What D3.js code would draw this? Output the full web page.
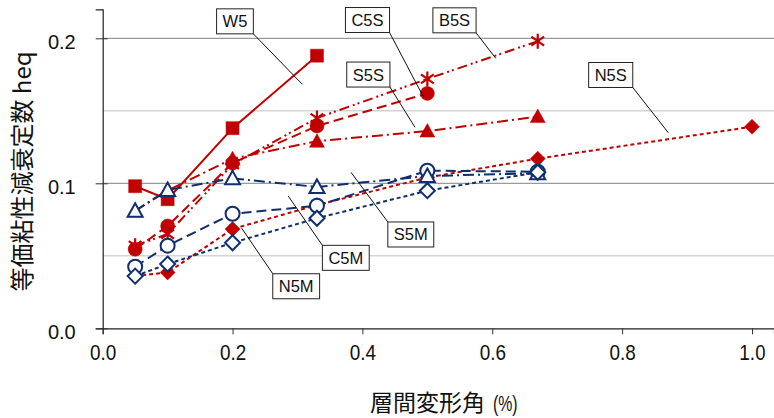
<!DOCTYPE html>
<html><head><meta charset="utf-8">
<script src="https://cdn.jsdelivr.net/npm/d3@7"></script>
<style>body{margin:0;background:#fff}svg{display:block}</style>
</head><body>
<svg id="c" width="774" height="418"></svg>
<script>
// ---- data ----
const xW5 = [0.05, 0.1, 0.2, 0.33];
const yW5 = [0.098, 0.089, 0.138, 0.188];
const xC5S = [0.05, 0.1, 0.2, 0.33, 0.5];
const yC5S = [0.0545, 0.0706, 0.114, 0.1395, 0.162];
const xB5S = [0.05, 0.1, 0.2, 0.33, 0.5, 0.67];
const yB5S = [0.057, 0.065, 0.113, 0.145, 0.172, 0.198];
const xS5S = [0.05, 0.1, 0.2, 0.33, 0.5, 0.67];
const yS5S = [0.081, 0.095, 0.117, 0.129, 0.136, 0.146];
const xN5S = [0.05, 0.1, 0.2, 0.33, 0.5, 0.67, 1.0];
const yN5S = [0.036, 0.0385, 0.0685, 0.085, 0.104, 0.117, 0.139];
const xM = [0.05, 0.1, 0.2, 0.33, 0.5, 0.67];
const yS5M = [0.081, 0.0954, 0.1034, 0.0975, 0.105, 0.107];
const yC5M = [0.0425, 0.057, 0.079, 0.0845, 0.1087, 0.108];
const yN5M = [0.036, 0.0443, 0.059, 0.0759, 0.0949, 0.1076];
const xTicks = [0, 0.2, 0.4, 0.6, 0.8, 1.0];
const yTicks = [0, 0.1, 0.2];
const yGridMajor = [0.1, 0.2];
const yGridMinor = [0.05, 0.15];
const xTitle = "層間変形角";
const xUnit = "(%)";
const yTitle = "等価粘性減衰定数 heq";
// annotation: label, box centre (data), leader end (data)
const annLabels = ["W5", "C5S", "B5S", "S5S", "N5S", "S5M", "C5M", "N5M"];
const annBox = [[0.2037, 0.2117], [0.4078, 0.2126], [0.5418, 0.2124], [0.4091, 0.175], [0.7824, 0.1747], [0.4745, 0.0647], [0.3744, 0.0486], [0.298, 0.029]];
const annEnd = [[0.3074, 0.1683], [0.4938, 0.1597], [0.6053, 0.1862], [0.481, 0.1386], [0.8711, 0.1349], [0.3824, 0.1076], [0.2858, 0.0912], [0.2141, 0.069]];

const RED = "#C00000", BLUE = "#0F2F6E";
const series = [
  {xs: xS5S, ys: yS5S, color: RED, dash: "11,4,2,4", marker: "triangle", fill: true},
  {xs: xB5S, ys: yB5S, color: RED, dash: "10,4,2,3,2,4", marker: "star", fill: true},
  {xs: xC5S, ys: yC5S, color: RED, dash: "10,5", marker: "circle", fill: true},
  {xs: xW5, ys: yW5, color: RED, dash: null, marker: "square", fill: true},
  {xs: xN5S, ys: yN5S, color: RED, dash: "4,3", marker: "diamond", fill: true},
  {xs: xM, ys: yC5M, color: BLUE, dash: "10,5", marker: "circle", fill: false},
  {xs: xM, ys: yS5M, color: BLUE, dash: "11,4,2,4", marker: "triangle", fill: false},
  {xs: xM, ys: yN5M, color: BLUE, dash: "4,3", marker: "diamond", fill: false}
];

const svg = d3.select("#c");
const L = 102.7, R = 774, T = 9.3, B = 328.3;
const x = d3.scaleLinear().domain([0, (R - L) / 649.3]).range([L, R]);
const y = d3.scaleLinear().domain([0, 0.22]).range([B, T]);

// grid
svg.append("g").selectAll("line").data(yGridMinor).join("line")
  .attr("x1", L).attr("x2", R).attr("y1", d => y(d)).attr("y2", d => y(d))
  .attr("stroke", "#d4d4d4").attr("stroke-width", 1.5);
svg.append("g").selectAll("line").data(yGridMajor).join("line")
  .attr("x1", L).attr("x2", R).attr("y1", d => y(d)).attr("y2", d => y(d))
  .attr("stroke", "#9a9a9a").attr("stroke-width", 1.3);

// axes
const xAxis = d3.axisBottom(x).tickValues(xTicks).tickFormat(d3.format(".1f")).tickSize(6).tickPadding(10);
const gx = svg.append("g").attr("transform", `translate(0,${B})`).call(xAxis);
gx.select(".domain").attr("stroke", "#222").attr("stroke-width", 1.2);
gx.selectAll(".tick line").attr("stroke", "#333");
gx.selectAll(".tick text").attr("font-family", "'Liberation Sans', Arial, sans-serif")
  .attr("font-size", 22).attr("fill", "#111").attr("transform", "scale(0.86,1)");

const yAxis = d3.axisLeft(y).tickValues(yTicks).tickFormat(d3.format(".1f")).tickSize(7).tickPadding(20);
const gy = svg.append("g").attr("transform", `translate(${L},0)`).call(yAxis);
gy.select(".domain").attr("stroke", "#222").attr("stroke-width", 1.2);
gy.selectAll(".tick line").attr("stroke", "#333").attr("x2", -7).attr("x1", 5);
gy.selectAll(".tick text").attr("font-family", "'Liberation Sans', Arial, sans-serif")
  .attr("font-size", 20).attr("fill", "#111").attr("dy", "0.5em");

// titles
svg.append("text").attr("x", 370).attr("y", 411).attr("text-anchor", "start").attr("fill", "#111")
  .attr("font-family", "'Noto Sans CJK JP', sans-serif").attr("font-size", 23).text(xTitle);
svg.append("text").attr("transform", "translate(493,411) scale(0.72,1)").attr("fill", "#111")
  .attr("font-family", "'Liberation Sans', sans-serif").attr("font-size", 22).text(xUnit);
svg.append("text").attr("transform", "translate(20.5,171.5) rotate(-90)")
  .attr("text-anchor", "middle").attr("dominant-baseline", "central")
  .attr("font-family", "'Noto Sans CJK JP', sans-serif").attr("font-size", 24).attr("fill", "#111")
  .text(yTitle);

// series
function markerPath(type) {
  const p = d3.path();
  if (type === "square") { p.rect(-6.5, -6.5, 13, 13); }
  else if (type === "circle") { p.arc(0, 0, 7, 0, 2 * Math.PI); }
  else if (type === "triangle") { p.moveTo(0, -7.5); p.lineTo(7.5, 6); p.lineTo(-7.5, 6); p.closePath(); }
  else if (type === "diamond") { p.moveTo(0, -7.5); p.lineTo(7.5, 0); p.lineTo(0, 7.5); p.lineTo(-7.5, 0); p.closePath(); }
  else if (type === "star") {
    const r = 7.5;
    p.moveTo(0, -r); p.lineTo(0, r);
    p.moveTo(-r * 0.85, -r * 0.6); p.lineTo(r * 0.85, r * 0.6);
    p.moveTo(-r * 0.85, r * 0.6); p.lineTo(r * 0.85, -r * 0.6);
  }
  return p.toString();
}
const line = d3.line().x(d => x(d[0])).y(d => y(d[1]));
series.forEach(s => {
  const pts = s.xs.map((v, i) => [v, s.ys[i]]);
  svg.append("path").attr("d", line(pts)).attr("fill", "none").attr("stroke", s.color)
    .attr("stroke-width", 2).attr("stroke-dasharray", s.dash);
});
series.forEach(s => {
  const pts = s.xs.map((v, i) => [v, s.ys[i]]);
  svg.append("g").selectAll("path").data(pts).join("path")
    .attr("transform", d => `translate(${x(d[0])},${y(d[1])})`)
    .attr("d", markerPath(s.marker))
    .attr("fill", s.marker === "star" ? "none" : (s.fill ? s.color : "#fff"))
    .attr("stroke", s.color).attr("stroke-width", s.fill ? (s.marker === "star" ? 2.2 : 0.5) : 2);
});

// annotations
annLabels.forEach((lab, i) => {
  const cx = x(annBox[i][0]), cy = y(annBox[i][1]);
  const ex = x(annEnd[i][0]), ey = y(annEnd[i][1]);
  const g = svg.append("g");
  const t = g.append("text").attr("x", cx).attr("y", cy).attr("text-anchor", "middle")
    .attr("dominant-baseline", "central").attr("font-family", "'Liberation Sans', Arial, sans-serif")
    .attr("font-size", 16.5).attr("fill", "#111").text(lab);
  const w = t.node().getComputedTextLength() + 12, h = 25;
  const sx = ex > cx ? cx + w / 2 : cx - w / 2;
  const sy = ey > cy ? cy + h / 2 : cy - h / 2;
  g.insert("line", "text").attr("x1", sx).attr("y1", sy).attr("x2", ex).attr("y2", ey)
    .attr("stroke", "#111").attr("stroke-width", 1);
  g.insert("rect", "text").attr("x", cx - w / 2).attr("y", cy - h / 2).attr("width", w).attr("height", h)
    .attr("fill", "#fff").attr("stroke", "#222").attr("stroke-width", 1);
});
</script>
</body></html>
